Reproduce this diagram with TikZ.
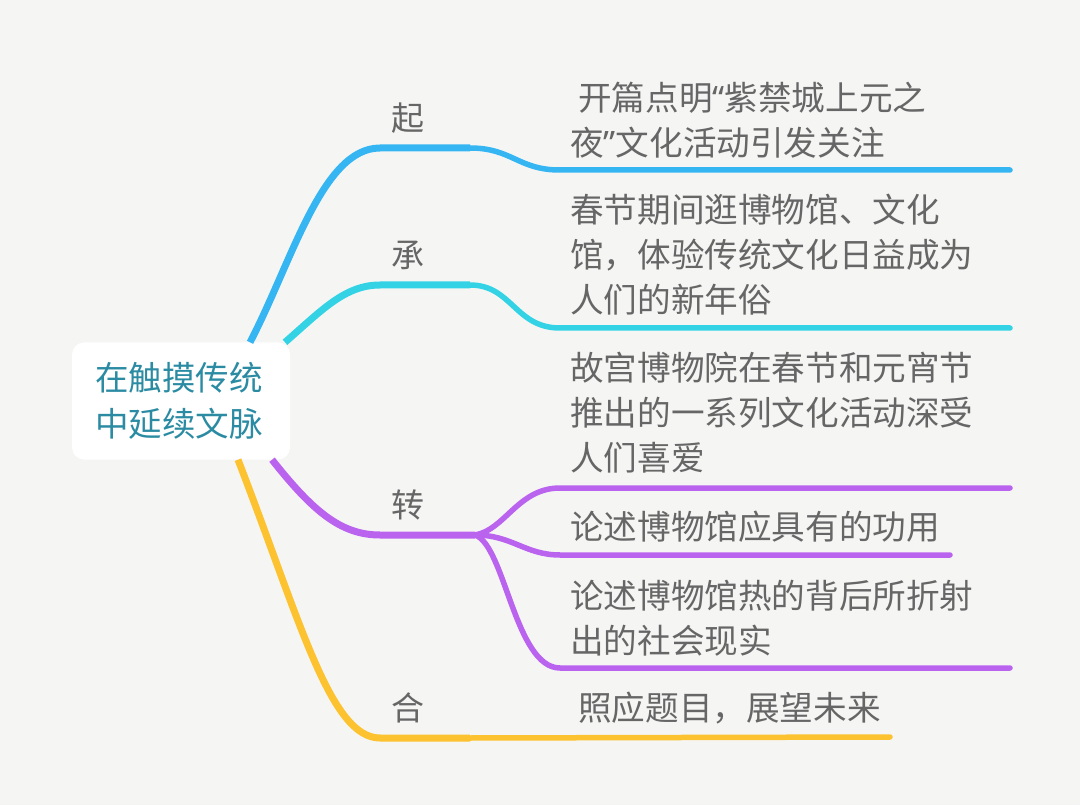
\documentclass[tikz,border=0pt]{standalone}
\usepackage{fontspec}
\usepackage{xcolor}
\usepackage{tikz}
\usetikzlibrary{calc}
\newfontfamily\cjk{Noto Sans CJK SC}
\newfontfamily\latn{Noto Sans}
\definecolor{paper}{HTML}{F5F6F4}
\definecolor{rootink}{HTML}{2A8BA3}
\definecolor{greyink}{HTML}{666666}
\definecolor{qiblue}{HTML}{36B5F3}
\definecolor{chengcyan}{HTML}{33D3E5}
\definecolor{zhuanpurple}{HTML}{BA63EE}
\definecolor{heyellow}{HTML}{FDC22F}
\tikzset{
  % Central topic
  topic/.style={fill=white,rounded corners=12pt,minimum width=218pt,
                minimum height=117pt,align=center,text=rootink,
                font=\cjk\fontsize{33.5}{46}\selectfont},
  % Stage labels (qi / cheng / zhuan / he)
  stage/.style={text=greyink,inner sep=0pt,font=\cjk\fontsize{33}{40}\selectfont},
  % Leaf texts
  leaf/.style={anchor=west,align=left,inner sep=0pt,text=greyink,
               font=\cjk\fontsize{33.6}{45}\selectfont},
  % Connectors
  br/.style={line width=7pt},
  twig/.style={line width=5.5pt,line cap=round}
}

\begin{document}
\begin{tikzpicture}[x=1pt,y=-1pt]
  \fill[paper] (0,0) rectangle (1080,805);
  \useasboundingbox (0,0) rectangle (1080,805);

  \node[topic] (root) at (181,401) {\hspace{-4pt}在触摸传统\\\hspace{-4pt}中延续文脉};

  \node[stage] (qi)    at (408,118) {起};
  \node[stage] (cheng) at (408,255) {承};
  \node[stage] (zhuan) at (408,505) {转};
  \node[stage] (he)    at (408,708) {合};

  \node[leaf] (l1) at (570,120) {\hspace{8pt}开篇点明{\latn“}紫禁城上元之\\夜{\latn”}文化活动引发关注};
  \node[leaf] (l2) at (570,255) {春节期间逛博物馆、文化\\馆，体验传统文化日益成为\\人们的新年俗};
  \node[leaf] (l3) at (570,413) {故宫博物院在春节和元宵节\\推出的一系列文化活动深受\\人们喜爱};
  \node[leaf] (l4) at (570,527) {论述博物馆应具有的功用};
  \node[leaf] (l5) at (570,618) {论述博物馆热的背后所折射\\出的社会现实};
  \node[leaf] (l6) at (570,708) {\hspace{8pt}照应题目，展望未来};

  % branch points
  \coordinate (qiA) at (380,148);     \coordinate (qiB) at (470,148);
  \coordinate (chengA) at (380,285);  \coordinate (chengB) at (470,285);
  \coordinate (zhuanA) at (380,535);  \coordinate (zhuanB) at (475,535);
  \coordinate (heA) at (380,738);     \coordinate (heB) at (470,738);
  % underlines
  \coordinate (u1) at (560,170);  \coordinate (v1) at (1010,170);
  \coordinate (u2) at (560,328);  \coordinate (v2) at (1010,328);
  \coordinate (u3) at (560,488);  \coordinate (v3) at (1010,488);
  \coordinate (u4) at (560,555);  \coordinate (v4) at (950,555);
  \coordinate (u5) at (560,668);  \coordinate (v5) at (1010,668);
  \coordinate (v6) at (890,737);

  % root -> qi -> l1
  \draw[br,qiblue] ($(root.north)+(69,0)$) .. controls (292,262) and (322,148) .. (qiA) -- (qiB);
  \draw[twig,qiblue] (qiB) .. controls (512,148) and (518,170) .. (u1) -- (v1);

  % root -> cheng -> l2
  \draw[br,chengcyan] ($(root.north)+(104,0)$) .. controls (322,310) and (345,285) .. (chengA) -- (chengB);
  \draw[twig,chengcyan] (chengB) .. controls (512,285) and (515,328) .. (u2) -- (v2);

  % root -> zhuan -> l3, l4, l5
  \draw[br,zhuanpurple] ($(root.south)+(91,0)$) .. controls (312,510) and (340,535) .. (zhuanA) -- (zhuanB);
  \draw[twig,zhuanpurple] (zhuanB) .. controls (505,530) and (518,488) .. (u3) -- (v3);
  \draw[twig,zhuanpurple] (zhuanB) .. controls (512,535) and (525,555) .. (u4) -- (v4);
  \draw[twig,zhuanpurple] (zhuanB) .. controls (505,545) and (515,668) .. (u5) -- (v5);

  % root -> he -> l6
  \draw[br,heyellow] ($(root.south)+(57,0)$) .. controls (300,620) and (330,738) .. (heA) -- (heB);
  \draw[twig,heyellow] (heB) -- (v6);
\end{tikzpicture}
\end{document}
